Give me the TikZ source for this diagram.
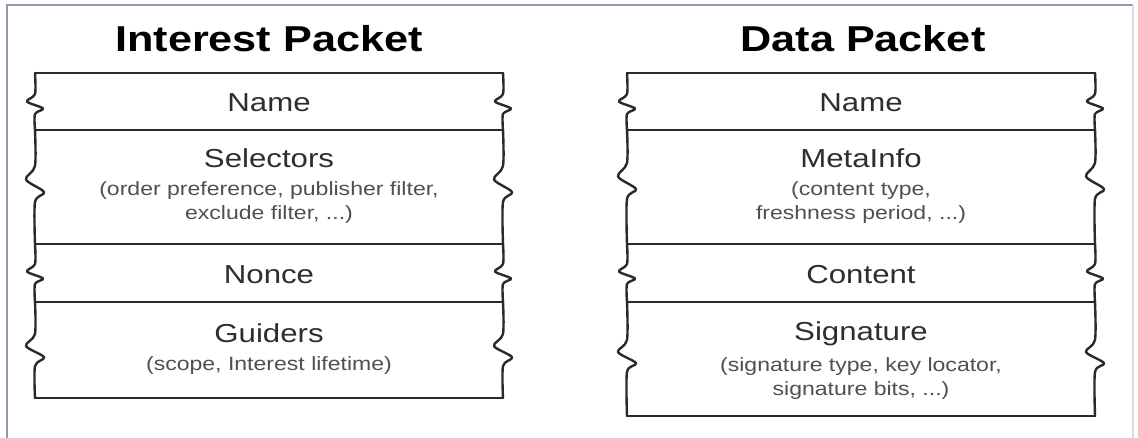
\documentclass[tikz,border=0pt]{standalone}
\usepackage{fontspec}
\setmainfont{Liberation Sans}
\definecolor{framec}{HTML}{8C9AAC}
\definecolor{edgec}{HTML}{2A2A2A}
\definecolor{maintxt}{HTML}{2E2E2E}
\definecolor{subtxt}{HTML}{505050}
\tikzset{
  edge/.style={draw=edgec, line width=1.8pt, line join=round, line cap=round},
  title/.style={anchor=base, xscale=1.2, inner sep=0pt, font=\bfseries\fontsize{27}{30}\selectfont, text=black},
  field/.style={anchor=base, xscale=1.2, inner sep=0pt, font=\fontsize{19.5}{22}\selectfont, text=maintxt},
  sub/.style={anchor=base, xscale=1.2, inner sep=0pt, font=\fontsize{14.4}{17}\selectfont, text=subtxt}
}
\newcommand\squigside[6]{%
  \draw[edge] plot[smooth,tension=0.5] coordinates {(#1,#2) (#1,#4-#5) (#1-#6,#4-0.25*#5) (#1+#6,#4+0.45*#5) (#1,#4+#5) (#1,#3)};}
\begin{document}
\begin{tikzpicture}[x=0.75pt,y=-0.75pt]
\useasboundingbox (0,0) rectangle (1138,438);
\fill[white] (0,0) rectangle (1138,438);
\draw[framec, line width=1.4pt] (7,438) -- (7,5) -- (1133,5);
\draw[framec!35, line width=1pt] (1133,5) -- (1133,438);

% ---------- Interest Packet ----------
\node[title] (ititle) at (269,52) {Interest Packet};
\foreach \yy in {73,130,244,302,398} {\draw[edge] (35,\yy) -- (503,\yy);}
\foreach \xx in {35,503} {
  \squigside{\xx}{73}{130}{104}{10}{8}
  \squigside{\xx}{130}{244}{184}{18}{9}
  \squigside{\xx}{244}{302}{274}{10}{8}
  \squigside{\xx}{302}{398}{350}{16}{9}
}
\node[field] (iname) at (269,112) {Name};
\node[field] (isel) at (269,168) {Selectors};
\node[sub] (isel1) at (269,196) {(order preference, publisher filter,};
\node[sub] (isel2) at (269,220) {exclude filter, ...)};
\node[field] (inonce) at (269,283) {Nonce};
\node[field] (iguid) at (269,342) {Guiders};
\node[sub] (iguid1) at (269,370) {(scope, Interest lifetime)};

% ---------- Data Packet ----------
\node[title] (dtitle) at (863,52) {Data Packet};
\foreach \yy in {73,130,244,302,416} {\draw[edge] (627,\yy) -- (1095,\yy);}
\foreach \xx in {627,1095} {
  \squigside{\xx}{73}{130}{104}{10}{8}
  \squigside{\xx}{130}{244}{181}{18}{9}
  \squigside{\xx}{244}{302}{274}{10}{8}
  \squigside{\xx}{302}{416}{356}{16}{9}
}
\node[field] (dname) at (861,112) {Name};
\node[field] (dmeta) at (861,168) {MetaInfo};
\node[sub] (dmeta1) at (861,196) {(content type,};
\node[sub] (dmeta2) at (861,220) {freshness period, ...)};
\node[field] (dcont) at (861,283) {Content};
\node[field] (dsig) at (861,340) {Signature};
\node[sub] (dsig1) at (861,371) {(signature type, key locator,};
\node[sub] (dsig2) at (861,395) {signature bits, ...)};
\end{tikzpicture}
\end{document}
